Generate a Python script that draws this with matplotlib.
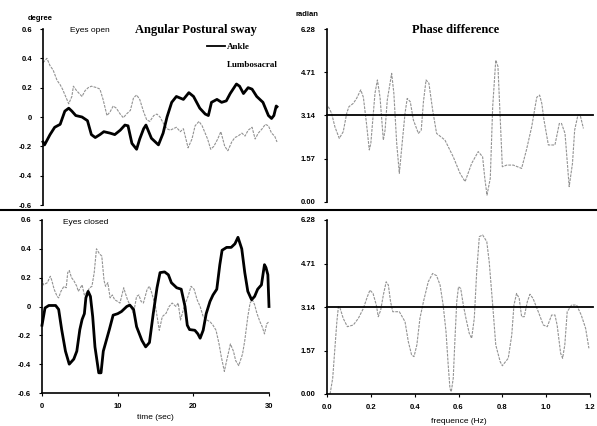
import matplotlib
matplotlib.use("Agg")
import matplotlib.pyplot as plt
from matplotlib.lines import Line2D

# ---------------- data ----------------
# Eyes open - ankle (thick)
t_open_ankle = [0, 0.2, 0.9, 1.5, 2.2, 2.8, 3.3, 3.7, 4.2, 5.0, 5.7, 6.2, 6.7, 7.3, 7.8, 8.6, 9.2, 9.9,
                10.5, 10.9, 11.4, 12.0, 12.4, 12.9, 13.2, 13.9, 14.8, 15.4, 15.9, 16.5, 17.1, 18.0, 18.7,
                19.3, 20.1, 20.8, 21.2, 21.6, 22.3, 22.9, 23.5, 24.0, 24.8, 25.2, 25.7, 26.3, 26.8, 27.4,
                28.2, 28.9, 29.3, 29.6, 29.9, 30.0]
v_open_ankle = [-0.17, -0.19, -0.12, -0.07, -0.05, 0.04, 0.06, 0.04, 0.01, 0.0, -0.025, -0.12, -0.14, -0.12,
                -0.10, -0.11, -0.12, -0.09, -0.055, -0.06, -0.18, -0.22, -0.15, -0.08, -0.055, -0.145, -0.19,
                -0.11, 0.0, 0.10, 0.14, 0.12, 0.166, 0.14, 0.06, 0.02, 0.01, 0.10, 0.12, 0.10, 0.11, 0.16,
                0.225, 0.21, 0.16, 0.20, 0.19, 0.14, 0.10, 0.01, -0.01, 0.01, 0.075, 0.07]
# Eyes open - lumbosacral (thin)
t_open_lumbo = [0, 0.5, 0.9, 1.3, 1.8, 2.2, 2.5, 2.9, 3.3, 3.7, 3.9, 4.3, 5.0, 5.4, 5.8, 6.2, 6.9, 7.3, 7.7,
                8.2, 8.6, 9.0, 9.4, 9.9, 10.3, 10.7, 11.2, 11.6, 12.0, 12.4, 12.9, 13.3, 13.7, 14.2, 14.6,
                15.0, 15.4, 15.9, 16.3, 16.7, 17.1, 17.6, 18.0, 18.6, 19.1, 19.5, 20.0, 20.4, 21.1, 21.5,
                21.9, 22.4, 22.8, 23.3, 23.7, 24.2, 24.6, 25.0, 25.5, 25.9, 26.3, 26.8, 27.2, 27.6, 28.1,
                28.5, 28.9, 29.3, 29.7, 30.0]
v_open_lumbo = [0.37, 0.40, 0.35, 0.32, 0.25, 0.22, 0.19, 0.14, 0.09, 0.14, 0.21, 0.18, 0.14, 0.18, 0.20,
                0.21, 0.20, 0.19, 0.12, 0.01, 0.035, 0.075, 0.06, 0.02, -0.005, 0.02, 0.045, 0.13, 0.15,
                0.12, 0.035, -0.02, -0.03, 0.01, 0.02, 0.0, -0.04, -0.08, -0.09, -0.08, -0.07, -0.10, -0.08,
                -0.21, -0.15, -0.06, -0.03, -0.06, -0.15, -0.22, -0.20, -0.15, -0.10, -0.20, -0.23, -0.17,
                -0.14, -0.13, -0.11, -0.13, -0.09, -0.07, -0.15, -0.11, -0.08, -0.05, -0.06, -0.11, -0.13,
                -0.17]

# Eyes closed - ankle (thick)
t_closed_ankle = [0, 0.4, 0.9, 1.8, 2.2, 2.6, 3.1, 3.6, 4.2, 4.6, 5.0, 5.3, 5.6, 5.8, 6.1, 6.4, 6.7, 7.0,
                  7.5, 7.8, 8.1, 8.5, 8.9, 9.4, 10.0, 10.5, 11.2, 11.6, 12.1, 12.5, 13.2, 13.7, 14.2, 14.7,
                  15.2, 15.6, 16.2, 16.7, 17.1, 17.8, 18.4, 18.9, 19.2, 19.5, 20.2, 20.6, 20.9, 21.3, 21.7,
                  22.2, 22.6, 23.1, 23.5, 23.8, 24.4, 25.0, 25.5, 25.9, 26.4, 26.8, 27.2, 27.7, 28.1, 28.5,
                  29.0, 29.4, 29.6, 29.85, 30.0]
v_closed_ankle = [-0.13, -0.01, 0.007, 0.007, -0.02, -0.16, -0.31, -0.40, -0.365, -0.31, -0.16, -0.09,
                  -0.05, 0.06, 0.105, 0.07, -0.07, -0.28, -0.46, -0.46, -0.31, -0.235, -0.16, -0.06, -0.05,
                  -0.035, 0.0, 0.01, -0.02, -0.14, -0.235, -0.28, -0.25, -0.05, 0.13, 0.235, 0.24, 0.22,
                  0.165, 0.13, 0.12, 0.0, -0.13, -0.16, -0.165, -0.19, -0.22, -0.165, -0.05, 0.035, 0.08,
                  0.12, 0.29, 0.39, 0.41, 0.41, 0.435, 0.48, 0.40, 0.235, 0.105, 0.047, 0.07, 0.12, 0.15,
                  0.29, 0.27, 0.22, 0.0]
# Eyes closed - lumbosacral (thin)
t_closed_lumbo = [0, 0.2, 0.7, 1.1, 1.3, 1.6, 2.0, 2.2, 2.5, 2.9, 3.2, 3.4, 3.6, 3.9, 4.2, 4.6, 4.8, 5.3,
                  5.6, 5.9, 6.3, 6.6, 6.9, 7.2, 7.6, 7.9, 8.2, 8.4, 8.7, 9.0, 9.3, 9.6, 10.0, 10.3, 10.8,
                  11.0, 11.3, 11.7, 12.1, 12.5, 12.8, 13.1, 13.4, 13.9, 14.2, 14.5, 15.0, 15.5, 15.9, 16.4,
                  16.8, 17.2, 17.7, 18.0, 18.3, 18.8, 19.3, 19.7, 20.1, 20.5, 20.9, 21.3, 21.8, 22.2, 22.6,
                  23.0, 23.4, 23.7, 24.1, 24.4, 24.9, 25.3, 25.6, 26.0, 26.5, 26.8, 27.2, 27.5, 27.8, 28.1,
                  28.4, 28.8, 29.1, 29.4, 29.7, 30.0]
v_closed_lumbo = [0.19, 0.15, 0.165, 0.21, 0.18, 0.12, 0.07, 0.06, 0.105, 0.14, 0.13, 0.235, 0.25, 0.20,
                  0.18, 0.14, 0.105, 0.15, 0.08, 0.095, 0.13, 0.14, 0.235, 0.40, 0.365, 0.35, 0.18, 0.14,
                  0.165, 0.06, 0.08, 0.047, 0.035, 0.024, 0.13, 0.095, 0.047, 0.0, -0.047, 0.07, 0.08, 0.035,
                  0.024, 0.12, 0.14, 0.095, 0.0, -0.165, -0.07, -0.047, 0.0, 0.024, 0.0, 0.024, -0.094, 0.0,
                  0.07, 0.14, 0.12, 0.047, 0.0, -0.07, -0.094, -0.105, -0.13, -0.165, -0.26, -0.35, -0.45,
                  -0.376, -0.26, -0.31, -0.376, -0.41, -0.33, -0.235, -0.07, 0.024, 0.047, 0.012, -0.047,
                  -0.105, -0.14, -0.19, -0.12, -0.105]

# Phase difference - eyes open
f_open = [0.006, 0.021, 0.036, 0.056, 0.074, 0.09, 0.10, 0.12, 0.135, 0.154, 0.166, 0.18, 0.193, 0.2,
          0.219, 0.23, 0.242, 0.257, 0.265, 0.275, 0.295, 0.305, 0.318, 0.33, 0.34, 0.356, 0.366, 0.38,
          0.394, 0.417, 0.43, 0.44, 0.452, 0.465, 0.482, 0.50, 0.538, 0.576, 0.607, 0.63, 0.66, 0.69,
          0.71, 0.72, 0.73, 0.745, 0.756, 0.77, 0.78, 0.79, 0.80, 0.82, 0.85, 0.888, 0.91, 0.934, 0.957,
          0.97, 0.98, 0.99, 1.01, 1.04, 1.06, 1.07, 1.086, 1.105, 1.12, 1.13, 1.145, 1.155, 1.17]
p_open = [3.46, 3.22, 2.73, 2.31, 2.55, 3.22, 3.46, 3.58, 3.76, 4.07, 3.80, 2.86, 1.89, 2.13, 3.95, 4.43,
          3.80, 2.25, 2.61, 3.70, 4.67, 3.95, 2.13, 1.04, 1.89, 3.22, 3.76, 3.64, 2.98, 2.49, 2.61, 3.64,
          4.43, 4.31, 3.34, 2.49, 2.25, 1.64, 1.04, 0.74, 1.40, 1.83, 1.64, 0.86, 0.25, 0.86, 3.46, 5.15,
          4.92, 3.10, 1.28, 1.34, 1.34, 1.22, 1.89, 2.73, 3.80, 3.88, 3.58, 2.98, 2.07, 2.07, 2.85, 2.85,
          2.49, 0.56, 1.40, 2.61, 3.16, 3.16, 2.67]

# Phase difference - eyes closed
f_closed = [0.014, 0.026, 0.036, 0.045, 0.052, 0.06, 0.074, 0.093, 0.12, 0.143, 0.166, 0.184, 0.196,
            0.21, 0.225, 0.234, 0.245, 0.257, 0.27, 0.28, 0.29, 0.30, 0.315, 0.33, 0.356, 0.371, 0.386,
            0.397, 0.41, 0.424, 0.44, 0.462, 0.482, 0.50, 0.516, 0.53, 0.543, 0.553, 0.561, 0.567, 0.576,
            0.584, 0.592, 0.60, 0.61, 0.622, 0.634, 0.649, 0.66, 0.672, 0.683, 0.695, 0.71, 0.729, 0.74,
            0.756, 0.77, 0.79, 0.80, 0.827, 0.843, 0.853, 0.865, 0.877, 0.888, 0.90, 0.914, 0.926, 0.94,
            0.964, 0.987, 1.005, 1.025, 1.04, 1.05, 1.066, 1.075, 1.085, 1.096, 1.116, 1.139, 1.16, 1.18,
            1.195]
p_closed = [0.0, 0.57, 1.65, 2.61, 3.15, 3.09, 2.73, 2.43, 2.49, 2.73, 3.09, 3.51, 3.75, 3.63, 3.21, 2.79,
            3.03, 3.57, 4.05, 3.93, 3.33, 2.97, 2.97, 2.97, 2.61, 1.89, 1.41, 1.35, 1.77, 2.73, 3.33, 4.05,
            4.35, 4.27, 3.93, 3.21, 2.25, 1.05, 0.20, 0.08, 0.57, 2.01, 3.33, 3.87, 3.81, 3.21, 2.73, 2.19,
            2.01, 2.73, 4.41, 5.68, 5.74, 5.50, 4.78, 3.21, 1.77, 1.17, 1.02, 1.29, 2.13, 3.21, 3.63, 3.45,
            2.79, 2.79, 3.33, 3.60, 3.45, 2.97, 2.49, 2.43, 2.85, 2.85, 2.49, 1.47, 1.29, 1.77, 2.97, 3.21,
            3.21, 2.85, 2.37, 1.65]

sway_ticks = [-0.6, -0.4, -0.2, 0, 0.2, 0.4, 0.6]
sway_ticklabels = ["-0.6", "-0.4", "-0.2", "0", "0.2", "0.4", "0.6"]
phase_ticks = [0.0, 1.57, 3.14, 4.71, 6.28]
phase_ticklabels = ["0.00", "1.57", "3.14", "4.71", "6.28"]
time_ticks = [0, 10, 20, 30]
freq_ticks = [0.0, 0.2, 0.4, 0.6, 0.8, 1.0, 1.2]
freq_ticklabels = ["0.0", "0.2", "0.4", "0.6", "0.8", "1.0", "1.2"]

# ---------------- figure ----------------
W, H = 597, 426
fig = plt.figure(figsize=(W / 100, H / 100), dpi=100)
fig.patch.set_facecolor("white")

def rect(x0, x1, ytop, ybot):
    return [x0 / W, 1 - ybot / H, (x1 - x0) / W, (ybot - ytop) / H]

ax_tl = fig.add_axes(rect(43, 277, 29, 205))
ax_bl = fig.add_axes(rect(42, 269, 220, 393))
ax_tr = fig.add_axes(rect(327, 590, 29, 202))
ax_br = fig.add_axes(rect(327, 590, 220, 394))

tick_font = dict(family="Liberation Sans", size=5.5, weight="bold")
gray = "#939393"
thin_ls = (0, (2.5, 1.0))

def style(ax, bottom):
    for s in ["top", "right"]:
        ax.spines[s].set_visible(False)
    ax.spines["bottom"].set_visible(bottom)
    ax.spines["left"].set_linewidth(1.2)
    ax.spines["bottom"].set_linewidth(1.2)
    ax.tick_params(axis="y", direction="out", length=2, width=0.8, pad=6)
    ax.tick_params(axis="x", direction="out", length=2, width=0.8, pad=5, bottom=bottom, labelbottom=bottom)
    ax.set_facecolor("none")

for ax in (ax_tl, ax_bl):
    ax.set_xlim(0, 30)
    ax.set_ylim(-0.6, 0.6)
    ax.set_yticks(sway_ticks)
    ax.set_yticklabels(sway_ticklabels, fontdict=tick_font)
for ax in (ax_tr, ax_br):
    ax.set_xlim(0, 1.2)
    ax.set_ylim(0, 6.28)
    ax.set_yticks(phase_ticks)
    ax.set_yticklabels(phase_ticklabels, fontdict=tick_font)

style(ax_tl, False)
style(ax_tr, False)
style(ax_bl, True)
style(ax_br, True)

ax_bl.set_xticks(time_ticks)
ax_bl.set_xticklabels([str(v) for v in time_ticks], fontdict=tick_font)
ax_br.set_xticks(freq_ticks)
ax_br.set_xticklabels(freq_ticklabels, fontdict=tick_font)

# traces
ax_tl.plot(t_open_lumbo, v_open_lumbo, color=gray, lw=0.8, ls=thin_ls, clip_on=False)
ax_tl.plot(t_open_ankle, v_open_ankle, color="black", lw=2.0, solid_joinstyle="round", clip_on=False)
ax_bl.plot(t_closed_lumbo, v_closed_lumbo, color=gray, lw=0.8, ls=thin_ls, clip_on=False)
ax_bl.plot(t_closed_ankle, v_closed_ankle, color="black", lw=2.0, solid_joinstyle="round", clip_on=False)

for ax, f, p in ((ax_tr, f_open, p_open), (ax_br, f_closed, p_closed)):
    ax.plot(f, p, color=gray, lw=0.8, ls=thin_ls, clip_on=False)
    ax.axhline(3.14, xmin=0, xmax=1.01, color="black", lw=1.3, clip_on=False)

# texts
title_font = dict(family="Liberation Serif", size=9, weight="bold")
ax_tl.set_title("Angular Postural sway", fontdict=title_font, x=0.655, y=0.995, va="center", pad=0)
ax_tr.set_title("Phase difference", fontdict=title_font, x=0.49, y=0.995, va="center", pad=0)

small = dict(family="Liberation Sans", size=5.5, weight="bold")
fig.text(28 / W, 1 - 18 / H, "degree", ha="left", va="center", **small)
fig.text(296 / W, 1 - 15 / H, "radian", ha="left", va="center", **small)
fig.text(70 / W, 1 - 31 / H, "Eyes open", ha="left", va="center",
         family="Liberation Sans", size=6)
fig.text(63 / W, 1 - 223 / H, "Eyes closed", ha="left", va="center",
         family="Liberation Sans", size=6)

ax_bl.set_xlabel("time (sec)", family="Liberation Sans", size=6, labelpad=3)
ax_br.set_xlabel("frequence (Hz)", family="Liberation Sans", size=6, labelpad=5)

handles = [Line2D([], [], color="black", lw=1.3), Line2D([], [], color="white", lw=0.8)]
ax_tl.legend(handles, ["Ankle", "Lumbosacral"], loc="upper left",
             bbox_to_anchor=(207 / W, 1 - 43 / H), bbox_transform=fig.transFigure,
             frameon=False, prop=dict(family="Liberation Serif", size=6.5, weight="bold"),
             handlelength=2.0, handletextpad=0.2, labelspacing=1.0, borderpad=0, borderaxespad=0)

# separator line between rows
fig.add_artist(Line2D([0, 1], [1 - 210 / H, 1 - 210 / H], transform=fig.transFigure,
                      color="black", lw=1.5))

fig.savefig("out.png", dpi=100)
